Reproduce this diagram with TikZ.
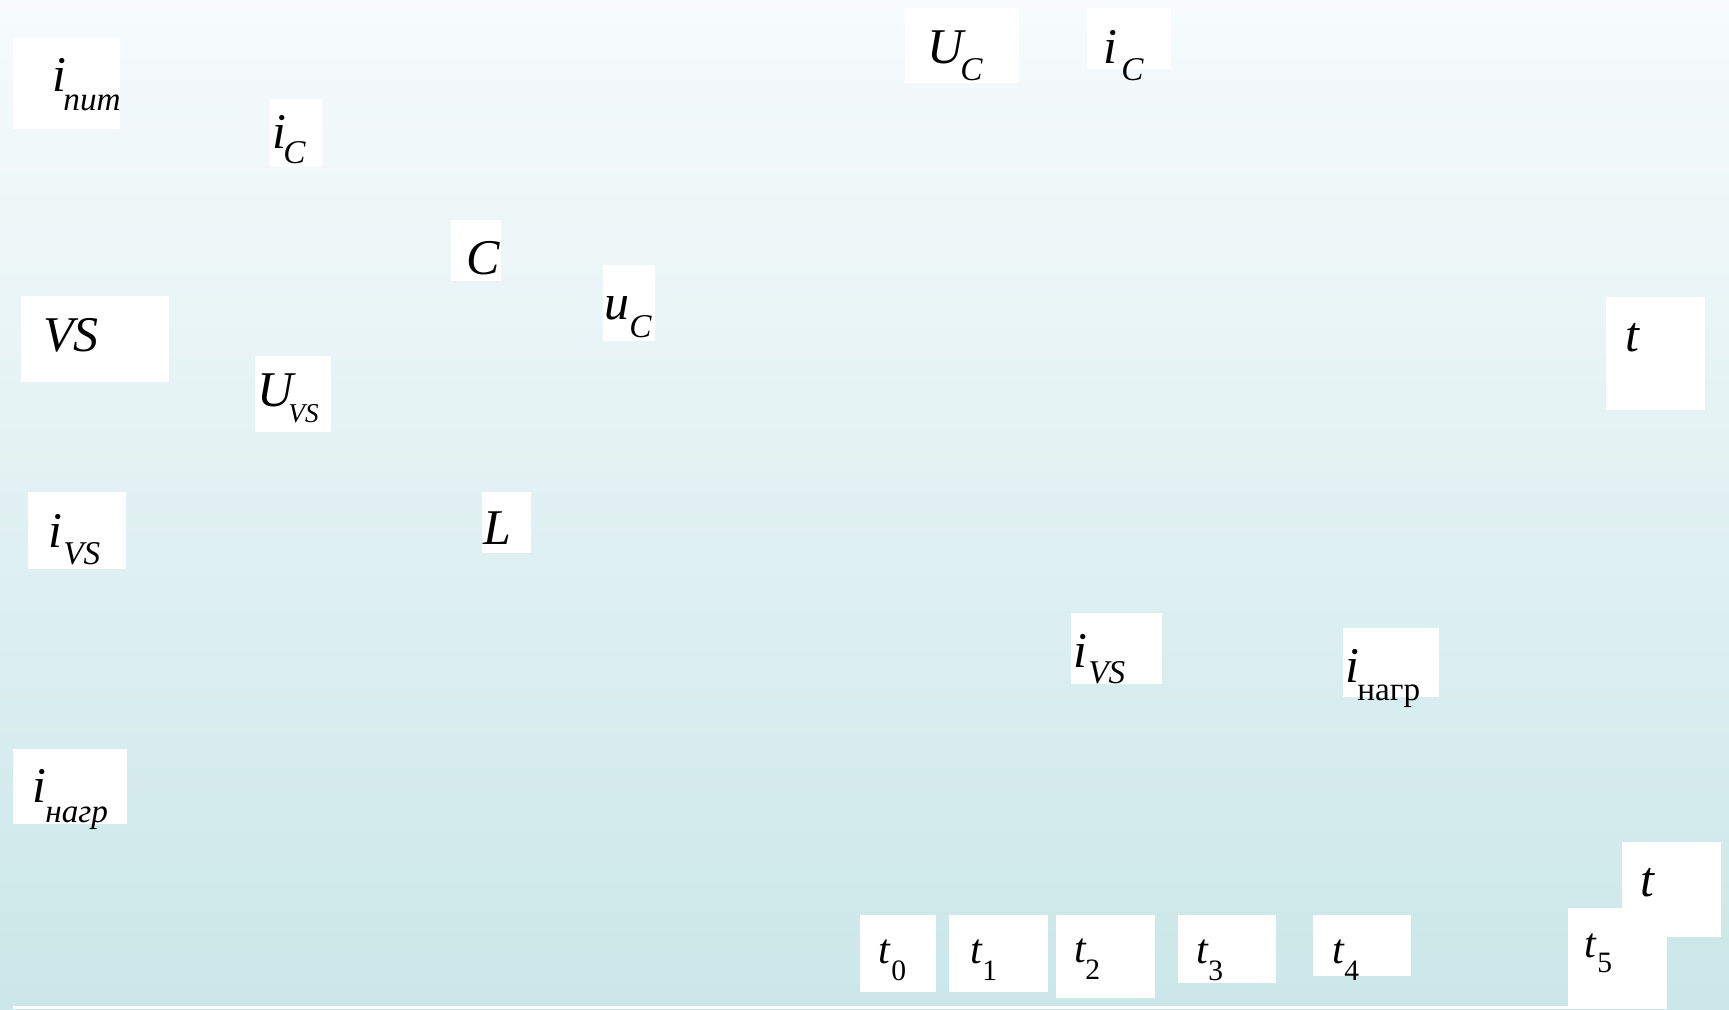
\documentclass[tikz,border=0pt]{standalone}
\usepackage{fontspec}
\setmainfont{Liberation Serif}
\definecolor{bgtop}{RGB}{247,251,252}
\definecolor{bgbot}{RGB}{203,231,233}
\newcommand{\mainsz}{\fontsize{25pt}{25pt}\selectfont\itshape}
\newcommand{\tsz}{\fontsize{21pt}{21pt}\selectfont\itshape}
\newcommand{\sbs}{\fontsize{16.6pt}{16.6pt}\selectfont}
\newcommand{\sbsm}{\fontsize{13.6pt}{13.6pt}\selectfont}
\newcommand{\dig}{\fontsize{14.8pt}{14.8pt}\selectfont\upshape}
\tikzset{lbl/.style={anchor=base west, inner sep=0pt, font=\mainsz},
  tlbl/.style={lbl, font=\tsz},
  sub/.style={anchor=base west, inner sep=0pt, font=\sbs\itshape},
  num/.style={anchor=base west, inner sep=0pt, font=\dig}}

\begin{document}
\begin{tikzpicture}[x=0.5pt, y=-0.5pt]
\useasboundingbox (0,0) rectangle (1729,1009);
\shade[top color=bgtop, bottom color=bgbot] (0,0) rectangle (1729,1009);
% white boxes behind the labels
\fill[white] (13,38) rectangle (120,129);
\fill[white] (270,99) rectangle (322,167);
\fill[white] (905,8) rectangle (1019,83);
\fill[white] (1087,8) rectangle (1171,69);
\fill[white] (21,296) rectangle (169,382);
\fill[white] (255,356) rectangle (331,432);
\fill[white] (28,492) rectangle (126,569);
\fill[white] (13,749) rectangle (127,824);
\fill[white] (451,220) rectangle (501,281);
\fill[white] (603,265) rectangle (655,341);
\fill[white] (482,492) rectangle (531,553);
\fill[white] (1606,297) rectangle (1705,410);
\fill[white] (1071,613) rectangle (1162,684);
\fill[white] (1343,628) rectangle (1439,697);
\fill[white] (860,915) rectangle (936,992);
\fill[white] (949,915) rectangle (1048,992);
\fill[white] (1056,915) rectangle (1155,998);
\fill[white] (1178,915) rectangle (1276,983);
\fill[white] (1313,915) rectangle (1411,976);
\fill[white] (1622,842) rectangle (1721,937);
\fill[white] (1568,908) rectangle (1667,1006);
\fill[white] (13,1006) rectangle (1667,1009);

% circuit labels
\node[lbl] (ipit) at (52,91) {i};
\node[sub] (ipits) at (63,110) {пит};
\node[lbl] (icl) at (272,148) {i};
\node[sub] (icls) at (283,163) {C};
\node[lbl] (vs) at (43,351) {VS};
\node[lbl] (uvs) at (257,406) {U};
\node[sub, font=\sbsm\itshape] (uvss) at (288,422) {VS};
\node[lbl] (ivsl) at (48,547) {i};
\node[sub] (ivsls) at (63,564) {VS};
\node[lbl] (inl) at (32,802) {i};
\node[sub] (inls) at (45,822) {нагр};
\node[lbl] (cap) at (466,274) {C};
\node[lbl] (uc) at (604,319) {u};
\node[sub] (ucs) at (629,337) {C};
\node[lbl] (ind) at (483,544) {L};

% graph labels
\node[lbl] (ucg) at (927,63) {U};
\node[sub] (ucgs) at (960,80) {C};
\node[lbl] (icg) at (1103,63) {i};
\node[sub] (icgs) at (1121,80) {C};
\node[lbl] (ta) at (1625,351) {t};
\node[lbl] (ivsr) at (1073,667) {i};
\node[sub] (ivsrs) at (1088,683) {VS};
\node[lbl] (inr) at (1345,682) {i};
\node[sub, font=\sbs\upshape] (inrs) at (1357,700) {нагр};
\node[lbl] (tb) at (1640,896) {t};
\node[tlbl] (t0) at (878,963) {t};
\node[num] (t0s) at (891,980) {0};
\node[tlbl] (t1) at (970,963) {t};
\node[num] (t1s) at (982,980) {1};
\node[tlbl] (t2) at (1074,962) {t};
\node[num] (t2s) at (1085,979) {2};
\node[tlbl] (t3) at (1196,963) {t};
\node[num] (t3s) at (1208,980) {3};
\node[tlbl] (t4) at (1332,963) {t};
\node[num] (t4s) at (1344,980) {4};
\node[tlbl] (t5) at (1584,957) {t};
\node[num] (t5s) at (1597,972) {5};
\end{tikzpicture}
\end{document}
